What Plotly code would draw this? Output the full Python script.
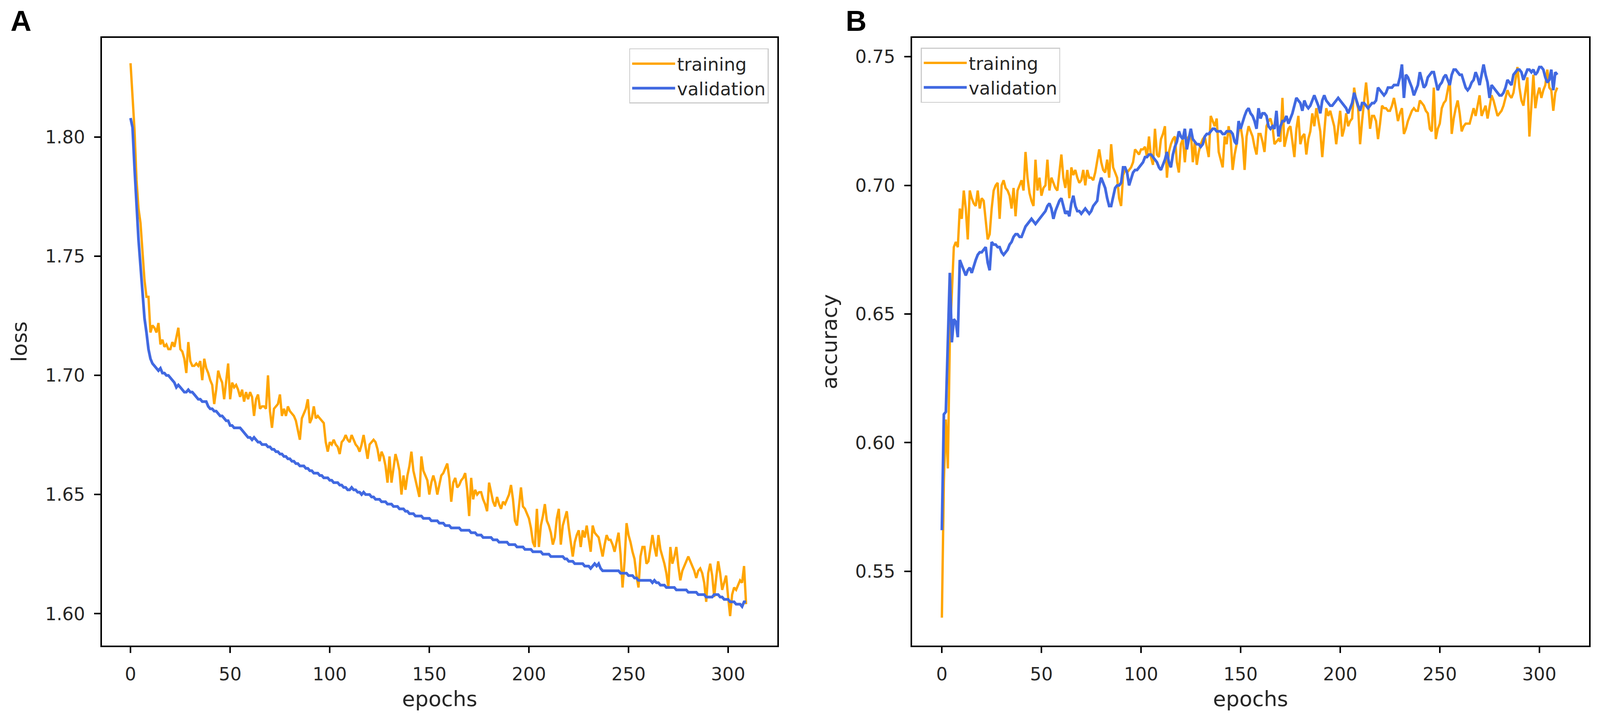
import plotly.graph_objects as go

# --- Data -------------------------------------------------------------------
EPOCHS = list(range(310))

TRAIN_LOSS = [
    1.831, 1.815, 1.803, 1.782, 1.770, 1.764, 1.750, 1.740, 1.733, 1.733,
    1.718, 1.721, 1.720, 1.718, 1.722, 1.713, 1.715, 1.712, 1.713, 1.711,
    1.711, 1.714, 1.712, 1.716, 1.720, 1.711, 1.710, 1.707, 1.701, 1.714,
    1.706, 1.704, 1.704, 1.705, 1.704, 1.706, 1.698, 1.707, 1.703, 1.701,
    1.698, 1.696, 1.688, 1.694, 1.702, 1.699, 1.697, 1.690, 1.698, 1.705,
    1.690, 1.697, 1.695, 1.696, 1.694, 1.691, 1.694, 1.689, 1.693, 1.690,
    1.693, 1.691, 1.683, 1.690, 1.692, 1.686, 1.687, 1.687, 1.686, 1.700,
    1.685, 1.678, 1.686, 1.687, 1.688, 1.692, 1.683, 1.686, 1.683, 1.687,
    1.685, 1.684, 1.683, 1.681, 1.677, 1.673, 1.682, 1.684, 1.686, 1.690,
    1.680, 1.682, 1.687, 1.682, 1.683, 1.682, 1.681, 1.680, 1.672, 1.668,
    1.672, 1.671, 1.673, 1.671, 1.670, 1.667, 1.672, 1.673, 1.675, 1.673,
    1.672, 1.675, 1.673, 1.671, 1.670, 1.668, 1.671, 1.675, 1.670, 1.665,
    1.671, 1.672, 1.673, 1.672, 1.669, 1.664, 1.668, 1.666, 1.662, 1.655,
    1.666, 1.655, 1.662, 1.667, 1.664, 1.660, 1.650, 1.658, 1.652, 1.658,
    1.662, 1.668, 1.660, 1.656, 1.653, 1.649, 1.666, 1.660, 1.658, 1.656,
    1.650, 1.655, 1.658, 1.655, 1.650, 1.654, 1.658, 1.659, 1.661, 1.663,
    1.657, 1.647, 1.655, 1.657, 1.653, 1.654, 1.656, 1.657, 1.659, 1.652,
    1.641, 1.657, 1.648, 1.652, 1.650, 1.651, 1.651, 1.648, 1.646, 1.643,
    1.655, 1.651, 1.647, 1.645, 1.649, 1.646, 1.644, 1.647, 1.646, 1.648,
    1.650, 1.654, 1.648, 1.639, 1.637, 1.645, 1.653, 1.645, 1.644, 1.642,
    1.640, 1.636, 1.630, 1.628, 1.644, 1.628, 1.637, 1.641, 1.646, 1.639,
    1.637, 1.634, 1.629, 1.632, 1.640, 1.644, 1.629, 1.637, 1.640, 1.643,
    1.636, 1.630, 1.624, 1.630, 1.633, 1.635, 1.628, 1.635, 1.632, 1.637,
    1.632, 1.626, 1.637, 1.634, 1.633, 1.632, 1.628, 1.624, 1.629, 1.633,
    1.631, 1.631, 1.629, 1.626, 1.630, 1.634, 1.625, 1.611, 1.622, 1.638,
    1.633, 1.630, 1.626, 1.623, 1.616, 1.611, 1.624, 1.628, 1.628, 1.621,
    1.622, 1.628, 1.633, 1.628, 1.624, 1.633, 1.627, 1.624, 1.621, 1.617,
    1.611, 1.628, 1.621, 1.624, 1.628, 1.620, 1.614, 1.618, 1.620, 1.622,
    1.624, 1.622, 1.620, 1.618, 1.615, 1.618, 1.619, 1.617, 1.613, 1.605,
    1.617, 1.621, 1.616, 1.607, 1.615, 1.622, 1.617, 1.610, 1.613, 1.616,
    1.607, 1.599, 1.608, 1.611, 1.610, 1.612, 1.614, 1.613, 1.620, 1.604,
]

VAL_LOSS = [
    1.808, 1.804, 1.787, 1.769, 1.757, 1.746, 1.735, 1.724, 1.718, 1.711,
    1.707, 1.705, 1.704, 1.703, 1.702, 1.703, 1.701, 1.701, 1.700, 1.700,
    1.699, 1.698, 1.697, 1.695, 1.696, 1.695, 1.694, 1.693, 1.693, 1.694,
    1.693, 1.693, 1.692, 1.691, 1.690, 1.690, 1.689, 1.689, 1.689, 1.687,
    1.686, 1.686, 1.685, 1.685, 1.684, 1.683, 1.683, 1.682, 1.681, 1.681,
    1.679, 1.679, 1.678, 1.678, 1.678, 1.678, 1.677, 1.676, 1.675, 1.674,
    1.674, 1.673, 1.674, 1.673, 1.672, 1.672, 1.671, 1.671, 1.671, 1.670,
    1.670, 1.669, 1.669, 1.668, 1.668, 1.667, 1.667, 1.666, 1.666, 1.665,
    1.665, 1.664, 1.664, 1.663, 1.663, 1.662, 1.662, 1.662, 1.661, 1.661,
    1.660, 1.660, 1.659, 1.659, 1.659, 1.658, 1.658, 1.657, 1.657, 1.657,
    1.656, 1.656, 1.655, 1.655, 1.655, 1.654, 1.654, 1.653, 1.653, 1.652,
    1.652, 1.653, 1.652, 1.652, 1.651, 1.651, 1.650, 1.651, 1.650, 1.650,
    1.650, 1.649, 1.649, 1.648, 1.648, 1.648, 1.647, 1.647, 1.647, 1.646,
    1.646, 1.646, 1.645, 1.645, 1.645, 1.644, 1.644, 1.644, 1.643, 1.643,
    1.642, 1.642, 1.642, 1.641, 1.641, 1.641, 1.641, 1.640, 1.640, 1.640,
    1.640, 1.639, 1.639, 1.639, 1.639, 1.638, 1.638, 1.638, 1.637, 1.637,
    1.637, 1.636, 1.636, 1.636, 1.636, 1.636, 1.635, 1.635, 1.635, 1.635,
    1.635, 1.634, 1.634, 1.634, 1.633, 1.633, 1.633, 1.632, 1.632, 1.632,
    1.632, 1.632, 1.631, 1.631, 1.631, 1.630, 1.630, 1.630, 1.630, 1.630,
    1.629, 1.629, 1.629, 1.629, 1.628, 1.628, 1.628, 1.628, 1.627, 1.627,
    1.627, 1.627, 1.626, 1.626, 1.626, 1.626, 1.626, 1.625, 1.625, 1.625,
    1.625, 1.624, 1.624, 1.624, 1.624, 1.624, 1.624, 1.624, 1.623, 1.623,
    1.622, 1.622, 1.622, 1.621, 1.621, 1.621, 1.621, 1.621, 1.620, 1.620,
    1.620, 1.619, 1.620, 1.621, 1.620, 1.621, 1.619, 1.618, 1.618, 1.618,
    1.618, 1.618, 1.618, 1.618, 1.618, 1.618, 1.617, 1.617, 1.617, 1.617,
    1.616, 1.616, 1.616, 1.615, 1.615, 1.614, 1.614, 1.614, 1.614, 1.614,
    1.614, 1.614, 1.613, 1.614, 1.613, 1.613, 1.612, 1.612, 1.612, 1.611,
    1.611, 1.611, 1.611, 1.611, 1.610, 1.610, 1.610, 1.610, 1.610, 1.610,
    1.609, 1.609, 1.609, 1.609, 1.609, 1.608, 1.608, 1.608, 1.608, 1.607,
    1.607, 1.607, 1.607, 1.608, 1.608, 1.608, 1.607, 1.607, 1.606, 1.606,
    1.606, 1.605, 1.605, 1.605, 1.604, 1.604, 1.604, 1.603, 1.605, 1.605,
]

TRAIN_ACC = [
    0.532, 0.585, 0.609, 0.590, 0.640, 0.659, 0.676, 0.678, 0.676, 0.691,
    0.687, 0.698, 0.691, 0.679, 0.698, 0.695, 0.693, 0.692, 0.698, 0.691,
    0.695, 0.694, 0.687, 0.679, 0.681, 0.691, 0.698, 0.700, 0.701, 0.687,
    0.700, 0.702, 0.699, 0.698, 0.696, 0.691, 0.699, 0.688, 0.698, 0.700,
    0.702, 0.698, 0.713, 0.703, 0.697, 0.694, 0.692, 0.710, 0.698, 0.703,
    0.696, 0.699, 0.700, 0.710, 0.698, 0.703, 0.701, 0.699, 0.698, 0.705,
    0.712, 0.703, 0.699, 0.706, 0.695, 0.707, 0.704, 0.706, 0.703, 0.701,
    0.702, 0.706, 0.700, 0.706, 0.703, 0.703, 0.702, 0.705, 0.709, 0.714,
    0.709, 0.706, 0.705, 0.710, 0.703, 0.716, 0.707, 0.705, 0.703, 0.695,
    0.692, 0.704, 0.706, 0.705, 0.706, 0.707, 0.709, 0.714, 0.713, 0.712,
    0.714, 0.714, 0.715, 0.711, 0.719, 0.711, 0.708, 0.722, 0.712, 0.711,
    0.718, 0.720, 0.723, 0.703, 0.713, 0.716, 0.718, 0.719, 0.709, 0.705,
    0.716, 0.718, 0.709, 0.718, 0.719, 0.721, 0.709, 0.717, 0.708, 0.713,
    0.716, 0.718, 0.719, 0.715, 0.711, 0.727, 0.725, 0.723, 0.726, 0.713,
    0.710, 0.707, 0.719, 0.716, 0.723, 0.718, 0.706, 0.712, 0.716, 0.721,
    0.723, 0.718, 0.706, 0.719, 0.723, 0.721, 0.719, 0.715, 0.712, 0.720,
    0.720, 0.717, 0.713, 0.723, 0.725, 0.726, 0.723, 0.716, 0.717, 0.718,
    0.717, 0.734, 0.715, 0.719, 0.722, 0.723, 0.717, 0.711, 0.722, 0.727,
    0.716, 0.719, 0.720, 0.712, 0.718, 0.721, 0.728, 0.723, 0.730, 0.726,
    0.721, 0.711, 0.722, 0.730, 0.727, 0.729, 0.726, 0.723, 0.716, 0.722,
    0.729, 0.719, 0.722, 0.728, 0.723, 0.725, 0.726, 0.738, 0.733, 0.730,
    0.716, 0.725, 0.733, 0.740, 0.732, 0.722, 0.727, 0.727, 0.725, 0.718,
    0.724, 0.731, 0.730, 0.730, 0.729, 0.729, 0.731, 0.734, 0.730, 0.725,
    0.728, 0.730, 0.720, 0.722, 0.725, 0.727, 0.729, 0.730, 0.729, 0.729,
    0.733, 0.732, 0.731, 0.729, 0.728, 0.722, 0.721, 0.738, 0.718, 0.722,
    0.724, 0.730, 0.732, 0.733, 0.737, 0.741, 0.720, 0.726, 0.730, 0.733,
    0.728, 0.721, 0.723, 0.724, 0.724, 0.724, 0.727, 0.730, 0.727, 0.731,
    0.735, 0.727, 0.729, 0.731, 0.726, 0.730, 0.735, 0.733, 0.730, 0.727,
    0.728, 0.729, 0.731, 0.734, 0.737, 0.735, 0.734, 0.736, 0.741, 0.746,
    0.738, 0.733, 0.731, 0.737, 0.742, 0.719, 0.731, 0.743, 0.730, 0.735,
    0.738, 0.734, 0.737, 0.739, 0.745, 0.738, 0.737, 0.729, 0.736, 0.738,
]

VAL_ACC = [
    0.566, 0.611, 0.612, 0.641, 0.666, 0.639, 0.648, 0.647, 0.641, 0.671,
    0.669, 0.667, 0.665, 0.667, 0.668, 0.666, 0.669, 0.671, 0.673, 0.674,
    0.674, 0.675, 0.676, 0.670, 0.667, 0.678, 0.677, 0.677, 0.676, 0.676,
    0.674, 0.673, 0.674, 0.675, 0.677, 0.678, 0.680, 0.681, 0.681, 0.680,
    0.680, 0.682, 0.684, 0.685, 0.686, 0.687, 0.686, 0.685, 0.686, 0.687,
    0.688, 0.689, 0.690, 0.692, 0.693, 0.691, 0.687, 0.690, 0.692, 0.694,
    0.695, 0.692, 0.689, 0.690, 0.688, 0.693, 0.696, 0.692, 0.690, 0.690,
    0.689, 0.690, 0.691, 0.690, 0.689, 0.690, 0.692, 0.693, 0.694, 0.700,
    0.703, 0.701, 0.699, 0.695, 0.692, 0.692, 0.695, 0.699, 0.700, 0.700,
    0.701, 0.707, 0.707, 0.705, 0.700, 0.703, 0.705, 0.706, 0.706, 0.707,
    0.708, 0.709, 0.711, 0.711, 0.712, 0.712, 0.711, 0.710, 0.709, 0.707,
    0.706, 0.708, 0.710, 0.713, 0.709, 0.707, 0.712, 0.715, 0.717, 0.721,
    0.719, 0.718, 0.722, 0.714, 0.718, 0.722, 0.718, 0.717, 0.716, 0.716,
    0.715, 0.716, 0.719, 0.720, 0.720, 0.721, 0.722, 0.722, 0.721, 0.721,
    0.721, 0.720, 0.720, 0.721, 0.721, 0.721, 0.720, 0.717, 0.716, 0.725,
    0.722, 0.725, 0.727, 0.729, 0.730, 0.728, 0.727, 0.725, 0.722, 0.730,
    0.726, 0.728, 0.728, 0.727, 0.723, 0.722, 0.723, 0.722, 0.729, 0.719,
    0.723, 0.725, 0.725, 0.727, 0.724, 0.726, 0.728, 0.731, 0.734, 0.733,
    0.732, 0.729, 0.733, 0.731, 0.730, 0.731, 0.733, 0.735, 0.733, 0.731,
    0.728, 0.733, 0.735, 0.733, 0.732, 0.731, 0.731, 0.732, 0.733, 0.734,
    0.733, 0.732, 0.731, 0.730, 0.728, 0.730, 0.732, 0.736, 0.733, 0.731,
    0.729, 0.732, 0.732, 0.731, 0.730, 0.731, 0.732, 0.732, 0.733, 0.738,
    0.737, 0.736, 0.735, 0.736, 0.738, 0.738, 0.738, 0.739, 0.739, 0.739,
    0.742, 0.747, 0.734, 0.743, 0.742, 0.740, 0.738, 0.735, 0.737, 0.739,
    0.744, 0.741, 0.738, 0.739, 0.742, 0.743, 0.744, 0.744, 0.741, 0.737,
    0.739, 0.740, 0.742, 0.743, 0.741, 0.739, 0.743, 0.745, 0.745, 0.744,
    0.743, 0.743, 0.740, 0.738, 0.737, 0.738, 0.740, 0.741, 0.744, 0.742,
    0.739, 0.743, 0.747, 0.743, 0.740, 0.734, 0.739, 0.738, 0.737, 0.736,
    0.735, 0.735, 0.736, 0.738, 0.741, 0.740, 0.739, 0.743, 0.744, 0.745,
    0.745, 0.744, 0.741, 0.743, 0.745, 0.745, 0.744, 0.745, 0.743, 0.744,
    0.746, 0.746, 0.745, 0.742, 0.740, 0.741, 0.745, 0.737, 0.744, 0.743,
]

LOSS_TICKS = [1.60, 1.65, 1.70, 1.75, 1.80]
ACC_TICKS = [0.55, 0.60, 0.65, 0.70, 0.75]
EPOCH_TICKS = [0, 50, 100, 150, 200, 250, 300]

# --- Style ------------------------------------------------------------------
# positions below are measured on the 4326x1841 reference, turned into fractions
W, H = 4326, 1841
ORANGE = "#FFA500"
BLUE = "#4169E1"
TEXT = "#262626"
FONT = "DejaVu Sans"


def px_x(p):
    return p / W


def px_y(p):
    return 1 - p / H


fig = go.Figure()

fig.add_trace(go.Scatter(x=EPOCHS, y=TRAIN_LOSS, mode="lines", name="training",
                         line=dict(color=ORANGE, width=6), xaxis="x", yaxis="y",
                         legend="legend"))
fig.add_trace(go.Scatter(x=EPOCHS, y=VAL_LOSS, mode="lines", name="validation",
                         line=dict(color=BLUE, width=7), xaxis="x", yaxis="y",
                         legend="legend"))
fig.add_trace(go.Scatter(x=EPOCHS, y=TRAIN_ACC, mode="lines", name="training",
                         line=dict(color=ORANGE, width=6), xaxis="x2", yaxis="y2",
                         legend="legend2"))
fig.add_trace(go.Scatter(x=EPOCHS, y=VAL_ACC, mode="lines", name="validation",
                         line=dict(color=BLUE, width=7), xaxis="x2", yaxis="y2",
                         legend="legend2"))

axis_common = dict(
    showline=True, mirror=True, linecolor="black", linewidth=3.5,
    ticks="outside", ticklen=16, tickwidth=3.5, tickcolor="black",
    showgrid=False, zeroline=False, ticklabelstandoff=14,
    tickfont=dict(family=FONT, size=46, color=TEXT),
)
title_font = dict(family=FONT, size=54, color=TEXT)
legend_common = dict(
    bgcolor="rgba(255,255,255,0.8)", bordercolor="#cccccc", borderwidth=2.5,
    itemwidth=110, font=dict(family=FONT, size=46, color=TEXT),
)

y_dom = [px_y(1659), px_y(90)]

# no fixed width/height: the figure fills the browser window it is opened in
fig.update_layout(
    autosize=True,
    margin=dict(l=0, r=0, t=0, b=0),
    paper_bgcolor="white", plot_bgcolor="white",
    xaxis=dict(domain=[px_x(268), px_x(2102)], range=[-14.4, 324.8],
               tickvals=EPOCH_TICKS, anchor="y",
               title=dict(text="epochs", font=title_font, standoff=20), **axis_common),
    yaxis=dict(domain=y_dom, range=[1.5867, 1.8416], tickvals=LOSS_TICKS,
               tickformat=".2f", anchor="x",
               title=dict(text="loss", font=title_font, standoff=30), **axis_common),
    xaxis2=dict(domain=[px_x(2467), px_x(4305)], range=[-15.0, 325.0],
                tickvals=EPOCH_TICKS, anchor="y2",
                title=dict(text="epochs", font=title_font, standoff=20), **axis_common),
    yaxis2=dict(domain=y_dom, range=[0.5212, 0.7573], tickvals=ACC_TICKS,
                tickformat=".2f", anchor="x2",
                title=dict(text="accuracy", font=title_font, standoff=30), **axis_common),
    legend=dict(x=px_x(2078), y=px_y(117), xanchor="right", yanchor="top",
                **legend_common),
    legend2=dict(x=px_x(2491), y=px_y(115), xanchor="left", yanchor="top",
                 **legend_common),
    showlegend=True,
)

# panel letters
for label, xpos in (("A", 18), ("B", 2285)):
    fig.add_annotation(text=f"<b>{label}</b>", xref="paper", yref="paper",
                       x=px_x(xpos), y=px_y(2), xanchor="left", yanchor="top",
                       showarrow=False,
                       font=dict(family="Liberation Sans", size=74, color="black"))

fig.write_html("out.html")
